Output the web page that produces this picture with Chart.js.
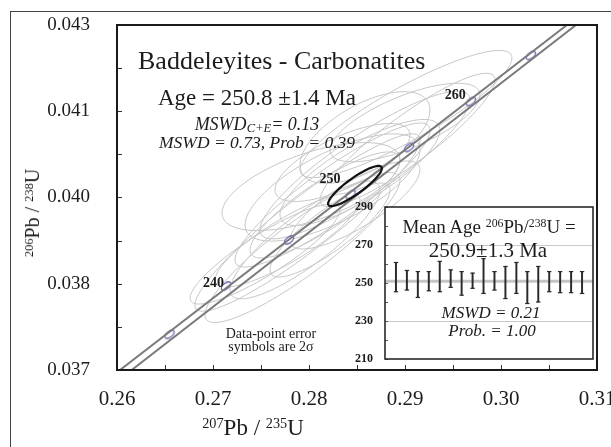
<!DOCTYPE html>
<html>
<head>
<meta charset="utf-8">
<script src="https://cdn.jsdelivr.net/npm/chart.js@4.4.0/dist/chart.umd.min.js"></script>
<style>
  html, body { margin: 0; padding: 0; background: #fff; }
  #wrap { position: relative; width: 611px; height: 447px; overflow: hidden;
          font-family: "Liberation Serif", "Times New Roman", serif; color: #1c1c1c; }
  #frame { position: absolute; left: 10px; top: 11px; width: 700px; height: 500px;
           border-left: 1px solid #444; border-top: 1px solid #444; }
  canvas { position: absolute; }
  #main { left: 0; top: 0; }
  #inset { left: 340px; top: 195px; }
  .t { position: absolute; white-space: nowrap; line-height: 1; }
  .c { transform: translateX(-50%); }
  .i { font-style: italic; }
  .sup { font-size: 62%; position: relative; top: -0.5em; }
  .sub { font-size: 70%; position: relative; top: 0.15em; }
</style>
</head>
<body>
<div id="wrap">
  <div id="frame"></div>
  <canvas id="main" width="611" height="447"></canvas>
  <canvas id="inset" width="260" height="175"></canvas>

  <div class="t" style="left:138px; top:48px; font-size:26px;">Baddeleyites - Carbonatites</div>
  <div class="t c" style="left:257px; top:86px; font-size:23px;">Age = 250.8 ±1.4 Ma</div>
  <div class="t c i" style="left:257px; top:115px; font-size:18px;">MSWD<span class="sub">C+E</span>= 0.13</div>
  <div class="t c i" style="left:257px; top:134px; font-size:17.5px;">MSWD = 0.73, Prob = 0.39</div>
  <div class="t c" style="left:271px; top:327px; font-size:14px;">Data-point error</div>
  <div class="t c" style="left:271px; top:340px; font-size:14px;">symbols are 2σ</div>

  <div class="t c" style="left:253px; top:416px; font-size:23px;"><span class="sup">207</span>Pb / <span class="sup">235</span>U</div>
  <div class="t" style="left:32px; top:213px; font-size:20px; transform: translate(-50%,-50%) rotate(-90deg);"><span class="sup">206</span>Pb / <span class="sup">238</span>U</div>

  <div class="t c" style="left:489px; top:217px; font-size:19px;">Mean Age <span class="sup">206</span>Pb/<span class="sup">238</span>U =</div>
  <div class="t c" style="left:488px; top:240px; font-size:21px;">250.9±1.3 Ma</div>
  <div class="t c i" style="left:491px; top:304px; font-size:17px;">MSWD = 0.21</div>
  <div class="t c i" style="left:492px; top:322px; font-size:17px;">Prob. = 1.00</div>
</div>

<script>
// axis ticks (207Pb/235U and 206Pb/238U)
const xTicks = [0.26, 0.265, 0.27, 0.275, 0.28, 0.285, 0.29, 0.295, 0.30, 0.305, 0.31];
const xTickLabels = ['0.26', '', '0.27', '', '0.28', '', '0.29', '', '0.30', '', '0.31'];
const yTicks = [0.037, 0.03775, 0.0385, 0.03925, 0.040, 0.04075, 0.0415, 0.04225, 0.043];
const yTickLabels = ['0.037', '', '0.038', '', '0.040', '', '0.041', '', '0.043'];

// concordia band (decay-constant error envelope)
const bandUpper = [{ x: 0.26031, y: 0.037 }, { x: 0.30687, y: 0.043 }];
const bandLower = [{ x: 0.26153, y: 0.037 }, { x: 0.30781, y: 0.043 }];

// age markers on concordia, Ma
const markerAges = [235, 240, 245, 250, 255, 260, 265];
const markerX = [0.26547, 0.27135, 0.27792, 0.28433, 0.29042, 0.29686, 0.30311];
const markerY = [0.03762, 0.03846, 0.03926, 0.04005, 0.04087, 0.04167, 0.04247];
const labelledAges = [240, 250, 260];

// data-point error ellipses: centre, 2s half-extent, error correlation
const ellX   = [0.28021, 0.27984, 0.27932, 0.28245, 0.29010, 0.28583, 0.28531, 0.28167, 0.27542,
                0.27958, 0.28349, 0.28479, 0.29026, 0.28219, 0.28583, 0.28245, 0.27776, 0.29000];
const ellY   = [0.04019, 0.039565, 0.03913, 0.040043, 0.041452, 0.040565, 0.040435, 0.03987, 0.039017,
                0.039261, 0.040609, 0.03987, 0.04100, 0.039435, 0.041043, 0.040174, 0.039261, 0.041304];
const ellSX  = [0.00927, 0.01172, 0.01016, 0.01016, 0.01104, 0.01094, 0.00833, 0.00781, 0.00781,
                0.00781, 0.00703, 0.00677, 0.00911, 0.00625, 0.00677, 0.00911, 0.00755, 0.00781];
const ellSY  = [0.000765, 0.001543, 0.001304, 0.001252, 0.001106, 0.001285, 0.000922, 0.000922, 0.00087,
                0.001023, 0.000678, 0.000765, 0.00116, 0.000817, 0.000797, 0.000932, 0.000817, 0.000683];
const ellRho = [0.60, 0.93, 0.90, 0.90, 0.88, 0.88, 0.80, 0.85, 0.88,
                0.85, 0.70, 0.80, 0.90, 0.85, 0.60, 0.70, 0.85, 0.70];

// concordia age ellipse
const concX = 0.28479, concY = 0.0402, concSX = 0.0028, concSY = 0.00035, concRho = 0.88;

// inset: 206Pb/238U ages, Ma
const agesLow  = [245.4, 246.3, 242.4, 245.9, 245.4, 247.7, 243.6, 247.2, 244.5,
                  246.3, 241.8, 244.5, 239.2, 240.0, 245.4, 244.9, 244.9, 244.5];
const agesHigh = [260.8, 256.6, 256.0, 256.0, 261.4, 256.9, 256.0, 255.2, 262.8,
                  256.0, 258.7, 260.8, 256.0, 258.7, 256.0, 256.0, 256.0, 256.0];
const meanAge = 250.9;
const insetTicks = [210, 230, 250, 270, 290];
const insetMinor = [220, 240, 260, 280];

const SERIF = "'Liberation Serif', 'Times New Roman', serif";
Chart.defaults.font.family = SERIF;
Chart.defaults.color = '#1c1c1c';

// small ellipse used as the age marker symbol
const mk = document.createElement('canvas');
mk.width = 16; mk.height = 16;
const m = mk.getContext('2d');
m.translate(8, 8);
m.rotate(-0.66);
m.beginPath();
m.ellipse(0, 0, 5.5, 2.8, 0, 0, 2 * Math.PI);
m.fillStyle = '#fff';
m.fill();
m.strokeStyle = '#6e6eb4';
m.lineWidth = 1.3;
m.stroke();

function traceEllipse(ctx, xs, ys, cx, cy, sx, sy, r) {
  const k = Math.sqrt(1 - r * r);
  ctx.beginPath();
  for (let j = 0; j <= 120; j++) {
    const t = j / 120 * 2 * Math.PI;
    const px = xs.getPixelForValue(cx + sx * Math.cos(t));
    const py = ys.getPixelForValue(cy + sy * (r * Math.cos(t) + k * Math.sin(t)));
    if (j) ctx.lineTo(px, py); else ctx.moveTo(px, py);
  }
  ctx.closePath();
  ctx.stroke();
}

// offsets of the age labels from their markers (px)
const labelOffsets = { 240: [-2, -3], 250: [-10, -15], 260: [-5, -6] };

const concordiaPlugin = {
  id: 'concordia',
  beforeDatasetsDraw(chart) {
    const { ctx, chartArea: a, scales: { x, y } } = chart;
    ctx.save();
    ctx.beginPath();
    ctx.rect(a.left, a.top, a.width, a.height);
    ctx.clip();
    ctx.strokeStyle = '#c6c6c6';
    ctx.lineWidth = 1;
    for (let i = 0; i < ellX.length; i++) {
      traceEllipse(ctx, x, y, ellX[i], ellY[i], ellSX[i], ellSY[i], ellRho[i]);
    }
    ctx.restore();
  },
  afterDatasetsDraw(chart) {
    const { ctx, scales: { x, y } } = chart;
    ctx.save();
    ctx.strokeStyle = '#111';
    ctx.lineWidth = 2.2;
    traceEllipse(ctx, x, y, concX, concY, concSX, concSY, concRho);

    ctx.font = 'bold 14px ' + SERIF;
    ctx.fillStyle = '#1c1c1c';
    ctx.textAlign = 'right';
    ctx.textBaseline = 'middle';
    labelledAges.forEach(age => {
      const i = markerAges.indexOf(age);
      const off = labelOffsets[age];
      ctx.fillText(String(age), x.getPixelForValue(markerX[i]) + off[0], y.getPixelForValue(markerY[i]) + off[1]);
    });
    ctx.restore();
  },
  afterDraw(chart) {
    const { ctx, chartArea: a, scales: { x, y } } = chart;
    ctx.save();
    // inward tick marks on the left and bottom
    ctx.strokeStyle = '#333';
    ctx.lineWidth = 1;
    ctx.beginPath();
    xTicks.forEach(v => {
      const px = Math.round(x.getPixelForValue(v)) + 0.5;
      ctx.moveTo(px, a.bottom);
      ctx.lineTo(px, a.bottom - 5);
    });
    yTicks.forEach(v => {
      const py = Math.round(y.getPixelForValue(v)) + 0.5;
      ctx.moveTo(a.left, py);
      ctx.lineTo(a.left + 5, py);
    });
    ctx.stroke();
    // plot frame
    ctx.strokeStyle = '#1a1a1a';
    ctx.lineWidth = 2;
    ctx.strokeRect(a.left, a.top, a.width, a.height);
    ctx.restore();
  }
};

new Chart(document.getElementById('main'), {
  type: 'scatter',
  data: {
    datasets: [
      { data: bandUpper, showLine: true, borderColor: '#7a7a7a', borderWidth: 2, pointRadius: 0 },
      { data: bandLower, showLine: true, borderColor: '#7a7a7a', borderWidth: 2, pointRadius: 0 },
      { data: markerX.map((v, i) => ({ x: v, y: markerY[i] })), showLine: false,
        pointStyle: mk, pointRadius: 5 }
    ]
  },
  options: {
    responsive: false,
    animation: false,
    events: [],
    layout: { padding: { left: 0, top: 25, right: 14, bottom: 0 } },
    plugins: { legend: { display: false }, tooltip: { enabled: false } },
    scales: {
      x: {
        type: 'linear', min: 0.26, max: 0.31,
        afterBuildTicks: s => { s.ticks = xTicks.map(v => ({ value: v })); },
        afterFit: s => { s.height = 77; s.paddingLeft = 0; s.paddingRight = 0; },
        ticks: { callback: (v, i) => xTickLabels[i], font: { size: 21 }, padding: 9, maxRotation: 0, autoSkip: false },
        grid: { display: false },
        border: { display: false }
      },
      y: {
        type: 'linear', min: 0.037, max: 0.043,
        afterBuildTicks: s => { s.ticks = yTicks.map(v => ({ value: v })); },
        afterFit: s => { s.width = 117; s.paddingTop = 0; s.paddingBottom = 0; },
        ticks: { callback: (v, i) => yTickLabels[i], font: { size: 19 }, padding: 19, autoSkip: false },
        grid: { display: false },
        border: { display: false }
      }
    }
  },
  plugins: [concordiaPlugin]
});

const insetBox = {
  id: 'insetBox',
  beforeDraw(chart) {
    const { ctx, chartArea: a } = chart;
    ctx.save();
    ctx.fillStyle = '#fff';
    ctx.fillRect(a.left, a.top, a.width, a.height);
    ctx.restore();
  },
  afterDraw(chart) {
    const { ctx, chartArea: a, scales: { y } } = chart;
    ctx.save();
    ctx.strokeStyle = '#555';
    ctx.lineWidth = 1;
    ctx.beginPath();
    insetMinor.concat(insetTicks).forEach(v => {
      const py = Math.round(y.getPixelForValue(v)) + 0.5;
      ctx.moveTo(a.left, py);
      ctx.lineTo(a.left + 3, py);
    });
    ctx.stroke();
    ctx.strokeStyle = '#2a2a2a';
    ctx.lineWidth = 1.6;
    ctx.strokeRect(a.left, a.top, a.width, a.height);
    ctx.restore();
  }
};

const idx = agesLow.map((v, i) => i + 1);

new Chart(document.getElementById('inset'), {
  type: 'bar',
  data: {
    datasets: [
      { type: 'line', data: [{ x: 0, y: meanAge }, { x: 19, y: meanAge }], borderColor: '#c4c4c4',
        borderWidth: 3, pointRadius: 0, order: 4 },
      { type: 'bar', data: idx.map((n, i) => ({ x: n, y: [agesLow[i], agesHigh[i]] })),
        backgroundColor: '#2a2a2a', barThickness: 1.3, order: 3 },
      { type: 'line', showLine: false, data: idx.map((n, i) => ({ x: n, y: agesHigh[i] })),
        pointStyle: 'line', pointRadius: 2.2, borderColor: '#2a2a2a', borderWidth: 1.2, order: 1 },
      { type: 'line', showLine: false, data: idx.map((n, i) => ({ x: n, y: agesLow[i] })),
        pointStyle: 'line', pointRadius: 2.2, borderColor: '#2a2a2a', borderWidth: 1.2, order: 2 }
    ]
  },
  options: {
    responsive: false,
    animation: false,
    events: [],
    layout: { padding: { left: 0, top: 12, right: 7, bottom: 11 } },
    plugins: { legend: { display: false }, tooltip: { enabled: false } },
    scales: {
      x: { type: 'linear', min: 0, max: 19, offset: false, display: false },
      y: {
        min: 210, max: 290,
        afterBuildTicks: s => { s.ticks = insetTicks.map(v => ({ value: v })); },
        afterFit: s => { s.width = 45; s.paddingTop = 0; s.paddingBottom = 0; },
        ticks: { font: { size: 12, weight: 'bold' }, padding: 12 },
        grid: {
          drawTicks: false,
          color: c => (c.tick.value === 230 || c.tick.value === 270) ? '#c9c9c9' : 'rgba(0,0,0,0)'
        },
        border: { display: false }
      }
    }
  },
  plugins: [insetBox]
});
</script>
</body>
</html>
